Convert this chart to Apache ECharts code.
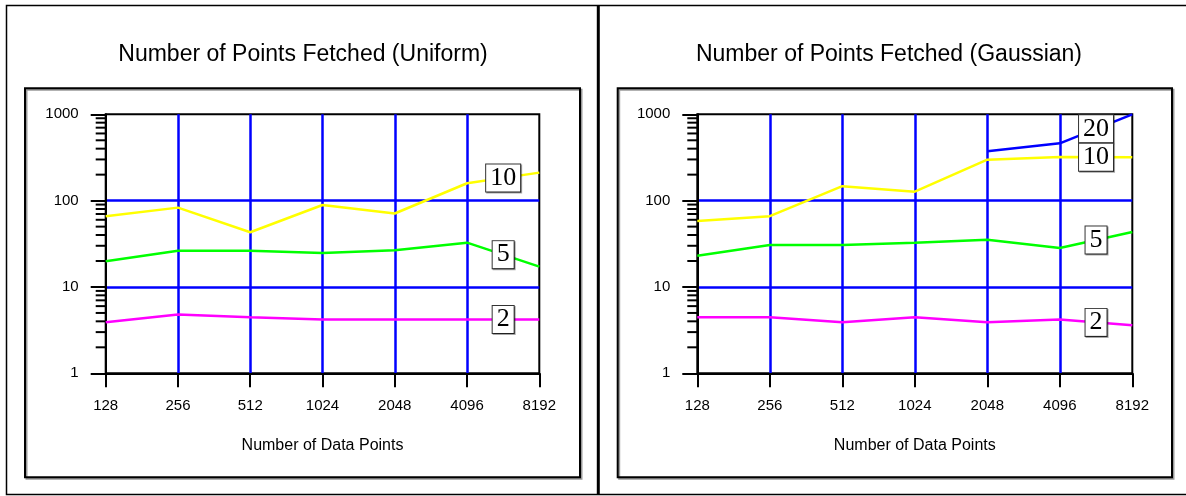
<!DOCTYPE html>
<html>
<head>
<meta charset="utf-8">
<title>Number of Points Fetched</title>
<script src="https://cdn.jsdelivr.net/npm/echarts@6/dist/echarts.min.js"></script>
<style>
  html, body { margin: 0; padding: 0; background: #fff; }
  #chart { width: 1186px; height: 496px; }
</style>
</head>
<body>
<div id="chart"></div>
<script>
// Data set sizes along the x axis (log base 2)
const sizes = [128, 256, 512, 1024, 2048, 4096, 8192];

// Points fetched, uniform distribution, one line per query size
const uniform2  = [3.9, 4.8, 4.45, 4.2, 4.2, 4.2, 4.2];
const uniform5  = [19.8, 26.3, 26.3, 24.7, 26.6, 32.6, 17.2];
const uniform10 = [66, 83, 43, 89, 71, 159, 211];

// Points fetched, gaussian distribution
const gauss2  = [4.45, 4.45, 3.9, 4.45, 3.9, 4.2, 3.6];
const gauss5  = [23, 30.6, 30.6, 32.6, 35.3, 28.3, 43.3];
const gauss10 = [58, 66, 147, 127, 298, 320, 318];
const gauss20 = [null, null, null, null, 373, 461, 1000];

// Minor tick positions on the log y axis
const minorTicks = [2, 3, 4, 5, 6, 7, 8, 9, 20, 30, 40, 50, 60, 70, 80, 90, 200, 300, 400, 500, 600, 700, 800, 900];

const titles = ['Number of Points Fetched (Uniform)', 'Number of Points Fetched (Gaussian)'];
const xName = 'Number of Data Points';

const SANS = '"Liberation Sans", Arial, Helvetica, sans-serif';
const SERIF = '"Liberation Serif", "Times New Roman", serif';

const chart = echarts.init(document.getElementById('chart'), null, { renderer: 'canvas' });

const grids = [
  { left: 105.7, top: 114.3, width: 433.6, height: 259 },
  { left: 697.3, top: 114.3, width: 435, height: 259 }
];

// plain integers, no thousands separators
const plainNumber = v => String(Math.round(v));

function xAxisFor(i) {
  return {
    gridIndex: i, type: 'log', logBase: 2, min: 128, max: 8192, interval: 1,
    axisLine: { lineStyle: { color: '#000', width: 2 } },
    axisTick: { show: true, length: 14, lineStyle: { color: '#000', width: 2 } },
    axisLabel: { color: '#000', fontSize: 15, fontFamily: SANS, margin: 25, formatter: plainNumber },
    splitLine: { show: true, showMinLine: false, showMaxLine: false, lineStyle: { color: '#0000ff', width: 2.5 } },
    name: xName, nameLocation: 'middle', nameGap: 64,
    nameTextStyle: { color: '#000', fontSize: 16, fontFamily: SANS }
  };
}

function yAxisFor(i) {
  return {
    gridIndex: i, type: 'log', logBase: 10, min: 1, max: 1000, interval: 1,
    axisLine: { lineStyle: { color: '#000', width: 2 } },
    axisTick: { show: true, length: 15, lineStyle: { color: '#000', width: 2 } },
    axisLabel: { color: '#000', fontSize: 15, fontFamily: SANS, margin: 27, formatter: plainNumber },
    splitLine: { show: true, showMinLine: false, showMaxLine: false, lineStyle: { color: '#0000ff', width: 2.5 } }
  };
}

// One line with its boxed tag placed midway along the last segment
function lineSeries(name, values, color, gi) {
  const n = values.length;
  const tagX = Math.sqrt(sizes[n - 2] * sizes[n - 1]);
  const tagY = Math.sqrt(values[n - 2] * values[n - 1]);
  return {
    type: 'line', name: name, xAxisIndex: gi, yAxisIndex: gi,
    data: sizes.map((s, k) => [s, values[k] == null ? '-' : values[k]]),
    showSymbol: false, symbol: 'none', connectNulls: false,
    lineStyle: { color: color, width: 2.5 },
    itemStyle: { color: color },
    z: 5,
    markPoint: {
      symbol: 'circle', symbolSize: 1,
      itemStyle: { color: 'rgba(0,0,0,0)' },
      data: [{ coord: [tagX, tagY] }],
      label: {
        show: true, position: 'inside', formatter: name,
        color: '#000', fontFamily: SERIF, fontSize: 26, lineHeight: 26,
        backgroundColor: '#fff', borderColor: '#333', borderWidth: 1,
        padding: [1, 4, 0, 4],
        shadowColor: 'rgba(0,0,0,0.35)', shadowOffsetX: 1, shadowOffsetY: 1
      },
      z: 10
    }
  };
}

// Short outward ticks at 2..9 within each decade of the y axis
function minorTickSeries(gi) {
  return {
    type: 'custom', xAxisIndex: gi, yAxisIndex: gi, silent: true, clip: false,
    data: minorTicks.map(v => [128, v]),
    renderItem: function (params, api) {
      const p = api.coord([api.value(0), api.value(1)]);
      return {
        type: 'line',
        shape: { x1: p[0] - 10, y1: p[1], x2: p[0], y2: p[1] },
        style: { stroke: '#000', lineWidth: 2 }
      };
    },
    z: 4
  };
}

function panelFrame(x, y, w, h) {
  return [
    { type: 'rect', shape: { x: x + 1.5, y: y + 1.5, width: w, height: h },
      style: { fill: null, stroke: '#999', lineWidth: 2 }, z: -2 },
    { type: 'rect', shape: { x: x, y: y, width: w, height: h },
      style: { fill: null, stroke: '#000', lineWidth: 2 }, z: -1 }
  ];
}

const option = {
  backgroundColor: '#fff',
  animation: false,
  grid: grids.map(g => Object.assign({
    show: true, borderColor: '#000', borderWidth: 2, backgroundColor: 'transparent', containLabel: false
  }, g)),
  xAxis: [xAxisFor(0), xAxisFor(1)],
  yAxis: [yAxisFor(0), yAxisFor(1)],
  series: [
    minorTickSeries(0),
    minorTickSeries(1),
    lineSeries('10', uniform10, '#ffff00', 0),
    lineSeries('5', uniform5, '#00ff00', 0),
    lineSeries('2', uniform2, '#ff00ff', 0),
    lineSeries('20', gauss20, '#0000ff', 1),
    lineSeries('10', gauss10, '#ffff00', 1),
    lineSeries('5', gauss5, '#00ff00', 1),
    lineSeries('2', gauss2, '#ff00ff', 1)
  ],
  graphic: [
    // outer frame and the divider between the two panels
    { type: 'rect', shape: { x: 6.5, y: 5.5, width: 1190, height: 489 },
      style: { fill: null, stroke: '#000', lineWidth: 1.5 }, z: -3 },
    { type: 'line', shape: { x1: 598.3, y1: 5.5, x2: 598.3, y2: 494.5 },
      style: { stroke: '#000', lineWidth: 3 }, z: -3 },
    ...panelFrame(25, 88.3, 555, 389),
    ...panelFrame(617.7, 88.3, 554.3, 389),
    { type: 'text', x: 303, y: 55,
      style: { text: titles[0], align: 'center', verticalAlign: 'middle', fill: '#000', font: '23px ' + SANS } },
    { type: 'text', x: 889, y: 55,
      style: { text: titles[1], align: 'center', verticalAlign: 'middle', fill: '#000', font: '23px ' + SANS } }
  ]
};

chart.setOption(option);
</script>
</body>
</html>
